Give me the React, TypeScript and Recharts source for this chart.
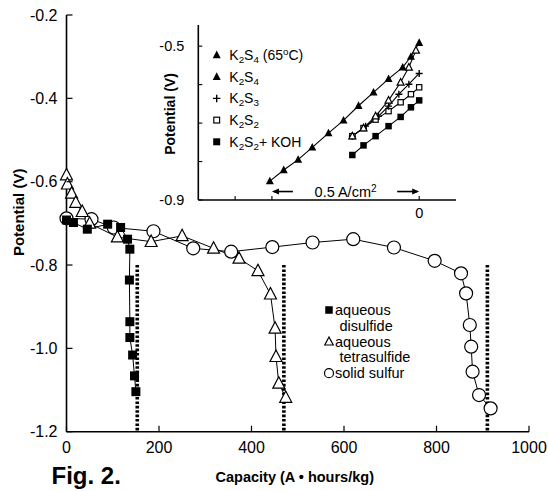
import React from "react";
import {
  ComposedChart,
  Line,
  XAxis,
  YAxis,
  ReferenceLine,
  Legend,
} from "recharts";

const FONT = "'Liberation Sans', Arial, Helvetica, sans-serif";

// main plot: capacity (A·h/kg) vs potential (V)
const disulfideCap = [0, 15, 45, 89, 117, 132, 137, 136, 137, 137, 143, 147, 150];
const disulfideV = [-0.692, -0.698, -0.714, -0.702, -0.71, -0.738, -0.762, -0.836, -0.936, -0.974, -1.016, -1.066, -1.104];

const tetraCap = [0, 2, 11, 20, 34, 50, 110, 183, 250, 318, 373, 414, 441, 451, 453, 459, 474];
const tetraV = [-0.584, -0.606, -0.628, -0.65, -0.672, -0.7, -0.733, -0.744, -0.73, -0.76, -0.784, -0.814, -0.87, -0.952, -1.02, -1.084, -1.118];

const sulfurCap = [0, 54, 102, 188, 274, 356, 445, 532, 620, 708, 796, 853, 864, 872, 875, 878, 892, 917];
const sulfurV = [-0.688, -0.69, -0.71, -0.719, -0.76, -0.768, -0.757, -0.746, -0.738, -0.758, -0.79, -0.82, -0.868, -0.944, -0.996, -1.056, -1.112, -1.144];

const cutoffCap = [153, 470, 910];
const cutoffFrom = -0.8;

const capTicks = [0, 200, 400, 600, 800, 1000];
const potTicks = [-1.2, -1.0, -0.8, -0.6, -0.4, -0.2];

// inset: current density (A/cm²) vs potential (V)
const hotX = [-0.507, -0.46, -0.411, -0.363, -0.308, -0.257, -0.206, -0.155, -0.104, -0.056, -0.028, 0];
const hotV = [-0.851, -0.822, -0.795, -0.763, -0.726, -0.693, -0.655, -0.62, -0.585, -0.555, -0.527, -0.491];

const s4X = [-0.227, -0.189, -0.148, -0.104, -0.063, -0.035, -0.011];
const s4V = [-0.734, -0.713, -0.682, -0.641, -0.594, -0.555, -0.511];

const s3X = [-0.227, -0.182, -0.138, -0.104, -0.069, -0.035, 0];
const s3V = [-0.734, -0.708, -0.682, -0.656, -0.625, -0.599, -0.571];

const s2X = [-0.227, -0.189, -0.148, -0.104, -0.063, -0.028, 0];
const s2V = [-0.734, -0.713, -0.691, -0.669, -0.646, -0.625, -0.607];

const kohX = [-0.227, -0.189, -0.148, -0.104, -0.063, -0.028, 0];
const kohV = [-0.783, -0.758, -0.734, -0.708, -0.684, -0.659, -0.641];

const insetNames = ["K_2S_4 (65^oC)", "K_2S_4", "K_2S_3", "K_2S_2", "K_2S_2+ KOH"];
const insetTopTicks = [-0.625, -0.5, -0.375, -0.25, -0.125, 0];
const insetBottomTicks = [-0.625, -0.5, 0];
const insetXLabels = [0];
const insetYTicks = [-0.9, -0.8, -0.7, -0.6, -0.5];
const insetYLabels = [-0.9, -0.5];
const arrowSpan = [-0.5, 0];
const arrowV = -0.878;

const pts = (xs: number[], ys: number[]) => xs.map((x, i) => ({ x, y: ys[i] }));

type Shape = "square" | "openSquare" | "triangle" | "openTriangle" | "circle" | "plus";

function Marker({ cx, cy, shape, s }: { cx: number; cy: number; shape: Shape; s: number }) {
  const h = s / 2;
  const tri = `${cx},${cy - h * 1.1} ${cx - h},${cy + h * 0.8} ${cx + h},${cy + h * 0.8}`;
  switch (shape) {
    case "square":
      return <rect x={cx - h} y={cy - h} width={s} height={s} fill="#000" />;
    case "openSquare":
      return <rect x={cx - h + 0.6} y={cy - h + 0.6} width={s - 1.2} height={s - 1.2} fill="#fff" stroke="#000" strokeWidth={1.2} />;
    case "triangle":
      return <polygon points={tri} fill="#000" />;
    case "openTriangle":
      return <polygon points={tri} fill="#fff" stroke="#000" strokeWidth={1.2} />;
    case "circle":
      return <circle cx={cx} cy={cy} r={h} fill="#fff" stroke="#000" strokeWidth={1.2} />;
    default:
      return <path d={`M${cx - h},${cy}H${cx + h}M${cx},${cy - h}V${cy + h}`} stroke="#000" strokeWidth={1.4} />;
  }
}

const dotFor = (shape: Shape, s: number) => (p: any) =>
  p.cx == null ? <g key={`e-${p.index}`} /> : <Marker key={`${shape}-${p.index}`} cx={p.cx} cy={p.cy} shape={shape} s={s} />;

// text with _x subscripts and ^x superscripts
function Formula({ x, y, src, size }: { x: number; y: number; src: string; size: number }) {
  const segs: { t: string; shift: number }[] = [];
  for (let i = 0; i < src.length; i++) {
    const c = src[i];
    if ((c === "_" || c === "^") && i + 1 < src.length) {
      segs.push({ t: src[i + 1], shift: c === "_" ? 3 : -5 });
      i++;
    } else if (segs.length && segs[segs.length - 1].shift === 0) {
      segs[segs.length - 1].t += c;
    } else {
      segs.push({ t: c, shift: 0 });
    }
  }
  let cur = 0;
  return (
    <text x={x} y={y} fontSize={size} fontFamily={FONT} fill="#000">
      {segs.map((sg, i) => {
        const dy = sg.shift - cur;
        cur = sg.shift;
        return (
          <tspan key={i} dy={dy} fontSize={sg.shift ? size * 0.7 : size}>
            {sg.t}
          </tspan>
        );
      })}
    </text>
  );
}

const AXIS = { stroke: "#000", strokeWidth: 1.6 };

// main axis ticks (drawn inward)
const BottomTick = ({ x, y, payload }: any) => (
  <g>
    <line x1={x} x2={x} y1={y} y2={y - 6} stroke="#000" strokeWidth={1.2} />
    <text x={x} y={y + 21} textAnchor="middle" fontSize={16} fontFamily={FONT} fill="#000">
      {payload.value}
    </text>
  </g>
);
const TopTick = ({ x, y }: any) => <line x1={x} x2={x} y1={y} y2={y + 6} stroke="#000" strokeWidth={1.2} />;
const LeftTick = ({ x, y, payload }: any) => (
  <g>
    <line x1={x} x2={x + 6} y1={y} y2={y} stroke="#000" strokeWidth={1.2} />
    <text x={x - 9} y={y + 5.5} textAnchor="end" fontSize={16} fontFamily={FONT} fill="#000">
      {payload.value.toFixed(1)}
    </text>
  </g>
);
const RightTick = ({ x, y }: any) => <line x1={x} x2={x - 6} y1={y} y2={y} stroke="#000" strokeWidth={1.2} />;

// inset ticks
const InBottomTick = ({ x, y, payload }: any) => (
  <g>
    <line x1={x} x2={x} y1={y} y2={y - 4} stroke="#000" strokeWidth={1.1} />
    {insetXLabels.includes(payload.value) && (
      <text x={x} y={y + 18} textAnchor="middle" fontSize={14.5} fontFamily={FONT} fill="#000">
        {payload.value}
      </text>
    )}
  </g>
);
const InTopTick = ({ x, y }: any) => <line x1={x} x2={x} y1={y} y2={y + 4} stroke="#000" strokeWidth={1.1} />;
const InLeftTick = ({ x, y, payload }: any) => (
  <g>
    <line x1={x} x2={x + 4} y1={y} y2={y} stroke="#000" strokeWidth={1.1} />
    {insetYLabels.some((v) => Math.abs(v - payload.value) < 1e-9) && (
      <text x={x - 14} y={y + 5} textAnchor="end" fontSize={14.5} fontFamily={FONT} fill="#000">
        {payload.value.toFixed(1)}
      </text>
    )}
  </g>
);
const InRightTick = ({ x, y }: any) => <line x1={x} x2={x - 4} y1={y} y2={y} stroke="#000" strokeWidth={1.1} />;

const PotLabel = ({ viewBox }: any) => {
  const cx = viewBox.x + 19;
  const cy = viewBox.y + viewBox.height / 2 - 11;
  return (
    <text x={cx} y={cy} transform={`rotate(-90 ${cx} ${cy})`} textAnchor="middle" dominantBaseline="central" fontSize={15} fontWeight="bold" fontFamily={FONT} fill="#000">
      Potential (V)
    </text>
  );
};

const CapLabel = ({ viewBox }: any) => (
  <g fontFamily={FONT} fill="#000" fontWeight="bold">
    <text x={viewBox.x + viewBox.width / 2 - 3} y={viewBox.y + 50.5} textAnchor="middle" fontSize={14.5}>
      Capacity (A • hours/kg)
    </text>
    <text x={viewBox.x - 15} y={viewBox.y + 52.5} fontSize={24}>
      Fig. 2.
    </text>
  </g>
);

const InPotLabel = ({ viewBox }: any) => {
  const cx = viewBox.x + 30;
  const cy = viewBox.y + viewBox.height / 2 + 1.5;
  return (
    <text x={cx} y={cy} transform={`rotate(-90 ${cx} ${cy})`} textAnchor="middle" dominantBaseline="central" fontSize={14} fontWeight="bold" fontFamily={FONT} fill="#000">
      Potential (V)
    </text>
  );
};

const ArrowLabel = ({ viewBox }: any) => {
  const { x, y, width } = viewBox;
  const r = x + width;
  return (
    <g fill="#000" stroke="#000">
      <line x1={x + 2} x2={x + 21} y1={y} y2={y} strokeWidth={1.6} />
      <polygon points={`${x},${y} ${x + 7},${y - 3} ${x + 7},${y + 3}`} stroke="none" />
      <text x={x + width / 2} y={y + 5} textAnchor="middle" fontSize={14.5} fontFamily={FONT} stroke="none">
        0.5 A/cm<tspan dy={-5} fontSize={10}>2</tspan>
      </text>
      <line x1={r - 22} x2={r - 2} y1={y} y2={y} strokeWidth={1.6} />
      <polygon points={`${r},${y} ${r - 7},${y - 3} ${r - 7},${y + 3}`} stroke="none" />
    </g>
  );
};

const mainLegendRows = [
  { shape: "square" as Shape, s: 7.5, lines: ["aqueous", "disulfide"] },
  { shape: "openTriangle" as Shape, s: 8.5, lines: ["aqueous", "tetrasulfide"] },
  { shape: "circle" as Shape, s: 9, lines: ["solid sulfur"] },
];

const MainLegend = () => {
  let y = 10;
  return (
    <svg width={140} height={84} style={{ display: "block", overflow: "visible" }}>
      {mainLegendRows.map((row, i) => {
        const cy = y;
        y += row.lines.length * 15.8;
        return (
          <g key={i}>
            <Marker cx={7} cy={cy} shape={row.shape} s={row.s} />
            {row.lines.map((t, j) => (
              <text key={j} x={j ? 17.5 : 13} y={cy + 5 + j * 15.8} fontSize={14.5} fontFamily={FONT} fill="#000">
                {t}
              </text>
            ))}
          </g>
        );
      })}
    </svg>
  );
};

const insetLegendShapes: { shape: Shape; s: number }[] = [
  { shape: "triangle", s: 8 },
  { shape: "triangle", s: 8 },
  { shape: "plus", s: 7.5 },
  { shape: "openSquare", s: 7 },
  { shape: "square", s: 7 },
];

const InsetLegend = () => (
  <svg width={110} height={112} style={{ display: "block", overflow: "visible" }}>
    {insetNames.map((name, i) => {
      const cy = 12 + i * 21.7;
      return (
        <g key={name}>
          <Marker cx={11.7} cy={cy} shape={insetLegendShapes[i].shape} s={insetLegendShapes[i].s} />
          <Formula x={24.3} y={cy + 5} src={name} size={14} />
        </g>
      );
    })}
  </svg>
);

function MainChart() {
  return (
    <ComposedChart width={548} height={491} margin={{ top: 15, right: 19, bottom: 0, left: 0 }}>
      <XAxis xAxisId="b" type="number" dataKey="x" domain={[0, 1000]} ticks={capTicks} interval={0} height={59.3} tickSize={0} tickMargin={0} tickLine={false} axisLine={AXIS} tick={<BottomTick />} label={CapLabel} />
      <XAxis xAxisId="t" orientation="top" type="number" dataKey="x" domain={[0, 1000]} ticks={capTicks} interval={0} height={0} tickSize={0} tickMargin={0} tickLine={false} axisLine={AXIS} tick={<TopTick />} />
      <YAxis yAxisId="l" type="number" domain={[-1.2, -0.2]} ticks={potTicks} interval={0} width={66.5} tickSize={0} tickMargin={0} tickLine={false} axisLine={AXIS} tick={<LeftTick />} label={PotLabel} />
      <YAxis yAxisId="r" orientation="right" type="number" domain={[-1.2, -0.2]} ticks={potTicks} interval={0} width={0} tickSize={0} tickMargin={0} tickLine={false} axisLine={AXIS} tick={<RightTick />} />
      {cutoffCap.map((c) => (
        <ReferenceLine key={c} xAxisId="b" yAxisId="l" segment={[{ x: c, y: cutoffFrom }, { x: c, y: -1.2 }]} stroke="#000" strokeWidth={3.6} strokeDasharray="2.6 1.8" />
      ))}
      <Line xAxisId="b" yAxisId="l" data={pts(sulfurCap, sulfurV)} dataKey="y" type="linear" stroke="#000" strokeWidth={1} dot={dotFor("circle", 13)} activeDot={false} isAnimationActive={false} />
      <Line xAxisId="b" yAxisId="l" data={pts(tetraCap, tetraV)} dataKey="y" type="linear" stroke="#000" strokeWidth={1} dot={dotFor("openTriangle", 12)} activeDot={false} isAnimationActive={false} />
      <Line xAxisId="b" yAxisId="l" data={pts(disulfideCap, disulfideV)} dataKey="y" type="linear" stroke="#000" strokeWidth={1} dot={dotFor("square", 9)} activeDot={false} isAnimationActive={false} />
      <Legend layout="horizontal" verticalAlign="middle" align="center" content={MainLegend} wrapperStyle={{ left: 322, top: 300, width: 140, height: 84 }} />
    </ComposedChart>
  );
}

function InsetChart() {
  return (
    <ComposedChart width={330} height={215} margin={{ top: 10, right: 14, bottom: 0, left: 0 }}>
      <XAxis xAxisId="b" type="number" dataKey="x" domain={[-0.75, 0.125]} ticks={insetBottomTicks} interval={0} height={30} tickSize={0} tickMargin={0} tickLine={false} axisLine={AXIS} tick={<InBottomTick />} />
      <XAxis xAxisId="t" orientation="top" type="number" dataKey="x" domain={[-0.75, 0.125]} ticks={insetTopTicks} interval={0} height={0} tickSize={0} tickMargin={0} tickLine={false} axisLine={AXIS} tick={<InTopTick />} />
      <YAxis yAxisId="l" type="number" domain={[-0.9, -0.445]} ticks={insetYTicks} interval={0} width={58.3} tickSize={0} tickMargin={0} tickLine={false} axisLine={AXIS} tick={<InLeftTick />} label={InPotLabel} />
      <YAxis yAxisId="r" orientation="right" type="number" domain={[-0.9, -0.445]} ticks={insetYTicks} interval={0} width={0} tickSize={0} tickMargin={0} tickLine={false} axisLine={AXIS} tick={<InRightTick />} />
      <ReferenceLine xAxisId="b" yAxisId="l" segment={[{ x: arrowSpan[0], y: arrowV }, { x: arrowSpan[1], y: arrowV }]} stroke="none" label={ArrowLabel} />
      <Line xAxisId="b" yAxisId="l" data={pts(hotX, hotV)} dataKey="y" type="linear" stroke="#000" strokeWidth={1.1} dot={dotFor("triangle", 8)} activeDot={false} isAnimationActive={false} />
      <Line xAxisId="b" yAxisId="l" data={pts(kohX, kohV)} dataKey="y" type="linear" stroke="#000" strokeWidth={1.1} dot={dotFor("square", 6.5)} activeDot={false} isAnimationActive={false} />
      <Line xAxisId="b" yAxisId="l" data={pts(s2X, s2V)} dataKey="y" type="linear" stroke="#000" strokeWidth={1.1} dot={dotFor("openSquare", 6.5)} activeDot={false} isAnimationActive={false} />
      <Line xAxisId="b" yAxisId="l" data={pts(s3X, s3V)} dataKey="y" type="linear" stroke="#000" strokeWidth={1.1} dot={dotFor("plus", 7)} activeDot={false} isAnimationActive={false} />
      <Line xAxisId="b" yAxisId="l" data={pts(s4X, s4V)} dataKey="y" type="linear" stroke="#000" strokeWidth={1.1} dot={dotFor("openTriangle", 7)} activeDot={false} isAnimationActive={false} />
      <Legend layout="horizontal" verticalAlign="middle" align="center" content={InsetLegend} wrapperStyle={{ left: 65, top: 28, width: 110, height: 112 }} />
    </ComposedChart>
  );
}

export default function App() {
  return (
    <div style={{ position: "absolute", left: 0, top: 0, width: 548, height: 491, background: "#fff" }}>
      <div style={{ position: "absolute", left: 0, top: 0 }}>
        <MainChart />
      </div>
      <div style={{ position: "absolute", left: 140, top: 15 }}>
        <InsetChart />
      </div>
    </div>
  );
}
